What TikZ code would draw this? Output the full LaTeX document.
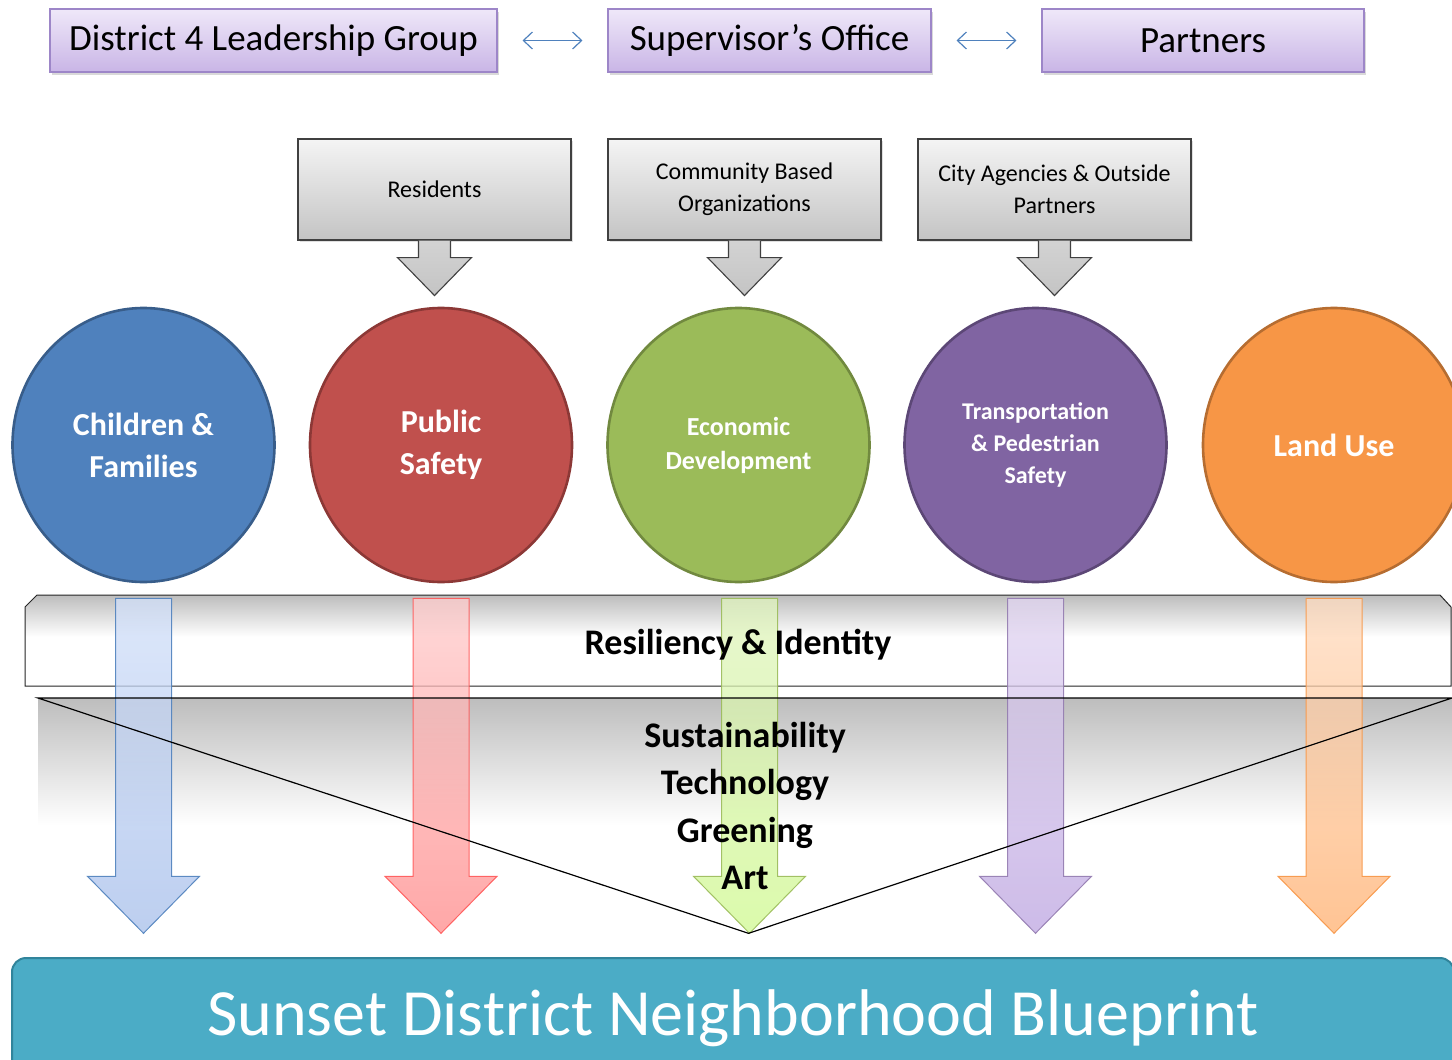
\documentclass[tikz,border=0pt]{standalone}
\usepackage{fontspec}
\setmainfont{Carlito}
\usetikzlibrary{positioning,calc,shadows,shapes.geometric,arrows.meta}
%%
\definecolor{lavTop}{HTML}{EFE8F9}
\definecolor{lavBot}{HTML}{C9B5E6}
\definecolor{lavLine}{HTML}{9D86C8}
\definecolor{linkBlue}{HTML}{4F81BD}
\definecolor{grayTop}{HTML}{F4F4F4}
\definecolor{grayBot}{HTML}{C4C4C4}
\definecolor{cfFill}{HTML}{4F81BD}\definecolor{cfLine}{HTML}{385D8A}
\definecolor{psFill}{HTML}{C0504D}\definecolor{psLine}{HTML}{8C3836}
\definecolor{edFill}{HTML}{9BBB59}\definecolor{edLine}{HTML}{71893F}
\definecolor{tpFill}{HTML}{8064A2}\definecolor{tpLine}{HTML}{5C4776}
\definecolor{luFill}{HTML}{F79646}\definecolor{luLine}{HTML}{B66D31}
\definecolor{barFill}{HTML}{4BACC6}\definecolor{barLine}{HTML}{31849B}
\definecolor{bandGray}{HTML}{BDBDBD}
%% arrow colours, top and bottom
\definecolor{cfTop}{HTML}{D2E0FA}\definecolor{cfBot}{HTML}{A6BEEA}
\definecolor{psTop}{HTML}{FFCCCC}\definecolor{psBot}{HTML}{FF8A8A}
\definecolor{edTop}{HTML}{E0F4BE}\definecolor{edBot}{HTML}{CFF890}
\definecolor{tpTop}{HTML}{E2D6F2}\definecolor{tpBot}{HTML}{BCA4E0}
\definecolor{luTop}{HTML}{FFDCC0}\definecolor{luBot}{HTML}{FFB070}
%%
\pgfdeclareverticalshading{bandFade}{100bp}{color(0bp)=(white);
  color(25bp)=(white); color(52bp)=(white); color(75bp)=(bandGray);
  color(100bp)=(bandGray)}
%%
%% Gray arrow hanging under a callout box.
\newcommand{\inputArrow}[1]{%%
  \shade[top color=grayBot!75, bottom color=grayBot, draw=black!75,
    line width=1.1pt]
  ($(#1.south)+(-16,0)$) -- ++(0,17) -- ++(-21,0)
  -- ($(#1.south)+(0,55)$) -- ++(37,-38) -- ++(-21,0) -- ++(0,-17);
}
%% Coloured arrow from a focus area down to the blueprint.
%% #1 circle, #2 x shift, #3 top colour, #4 bottom colour, #5 line colour
\newcommand{\flowArrow}[5]{%%
  \shade[top color=#3, bottom color=#4, draw=#5, line width=1pt,
    fill opacity=0.75, draw opacity=0.9]
  ($(#1.south)+(#2-28,15)$) -- ++(0,278) -- ++(-28,0)
  -- ($(#1.south)+(#2,350)$) -- ++(56,-57) -- ++(-28,0) -- ++(0,-278)
  -- cycle;
}
\begin{document}
\begin{tikzpicture}[x=1pt,y=-1pt,%%
  topbox/.style={draw=lavLine, line width=1.1pt, top color=lavTop,
    bottom color=lavBot, minimum height=63, inner sep=0pt,
    font=\fontsize{37}{43}\selectfont,
    drop shadow={shadow xshift=2pt, shadow yshift=-3pt, opacity=0.3}},
  callout/.style={draw=black!75, line width=1.1pt, top color=grayTop,
    bottom color=grayBot, minimum width=273, minimum height=101,
    inner sep=0pt, align=center, font=\fontsize{24}{32}\selectfont,
    drop shadow={shadow xshift=2pt, shadow yshift=-2pt, opacity=0.25}},
  focus/.style={ellipse, minimum width=262, minimum height=274,
    line width=2.6pt, text=white, align=center, inner sep=0pt},
  link/.style={{Straight Barb[length=9pt,width=17pt]}-{Straight Barb[length=9pt,width=17pt]},
    draw=linkBlue, line width=1.2pt, shorten >=25pt, shorten <=25pt},
  theme/.style={align=center, font=\bfseries\fontsize{36}{47.5}\selectfont}
]
\useasboundingbox (0,0) rectangle (1452,1060);
%%
%% Who is involved.
\node[topbox, minimum width=447] (dlg) at (273.5,40.5) {District 4 Leadership Group};
\node[topbox, minimum width=323] (sup) at (769.5,40.5) {Supervisor’s Office};
\node[topbox, minimum width=322] (prt) at (1203,40.5) {Partners};
\draw[link] (dlg) -- (sup);
\draw[link] (sup) -- (prt);
%%
%% Sources of input.
\node[callout] (res) at (434.5,189.5) {Residents};
\inputArrow{res}
\node[callout] (cbo) at (744.5,189.5) {Community Based\\Organizations};
\inputArrow{cbo}
\node[callout] (cao) at (1054.5,189.5) {City Agencies \& Outside\\Partners};
\inputArrow{cao}
%%
%% Focus areas.
\node[focus, fill=cfFill, draw=cfLine,
  font=\bfseries\fontsize{32}{42}\selectfont] (cf) at (143.5,445) {Children \&\\Families};
\node[focus, fill=psFill, draw=psLine,
  font=\bfseries\fontsize{32}{42}\selectfont] (ps) at (441,445) {Public\\Safety};
\node[focus, fill=edFill, draw=edLine,
  font=\bfseries\fontsize{26}{34}\selectfont] (ed) at (738.5,445) {Economic\\Development};
\node[focus, fill=tpFill, draw=tpLine,
  font=\bfseries\fontsize{24}{32}\selectfont] (tp) at (1035.5,445) {Transportation\\\& Pedestrian\\Safety};
\node[focus, fill=luFill, draw=luLine,
  font=\bfseries\fontsize{32}{42}\selectfont] (lu) at (1334,445) {Land Use};
%%
%% Cross-cutting band and the funnel.
\shade[shading=bandFade, draw=black!85, line width=1pt]
  (25,607) -- (37,595) -- (1440,595) -- (1451,607) -- (1451,686)
  -- (25,686) -- cycle;
\shade[top color=bandGray, bottom color=white] (38,698) rectangle (1452,825);
\coordinate (apex) at ($(ed.south)+(10,350)$);
\coordinate (fl) at (38,698);
\coordinate (fr) at (1452,698);
%%
\flowArrow{cf}{0}{cfTop}{cfBot}{linkBlue}
\flowArrow{ps}{0}{psTop}{psBot}{red!65}
\flowArrow{ed}{11}{edTop}{edBot}{edFill}
\flowArrow{tp}{0}{tpTop}{tpBot}{tpFill!85}
\flowArrow{lu}{0}{luTop}{luBot}{luFill}
%%
\draw[line width=1.2pt] (fl) -- (fr) -- (apex) -- cycle;
\node[theme] (ri) at (738,645) {Resiliency \& Identity};
\node[theme] (stg) at (745,806) {Sustainability\\Technology\\Greening\\Art};
%%
%% The end product.
\node[draw=barLine, line width=2pt, fill=barFill, rounded corners=14pt,
  minimum width=1442, minimum height=120, text=white,
  font=\fontsize{66}{70}\selectfont] (snb) at (733,1018)
  {Sunset District Neighborhood Blueprint};
\end{tikzpicture}
\end{document}
